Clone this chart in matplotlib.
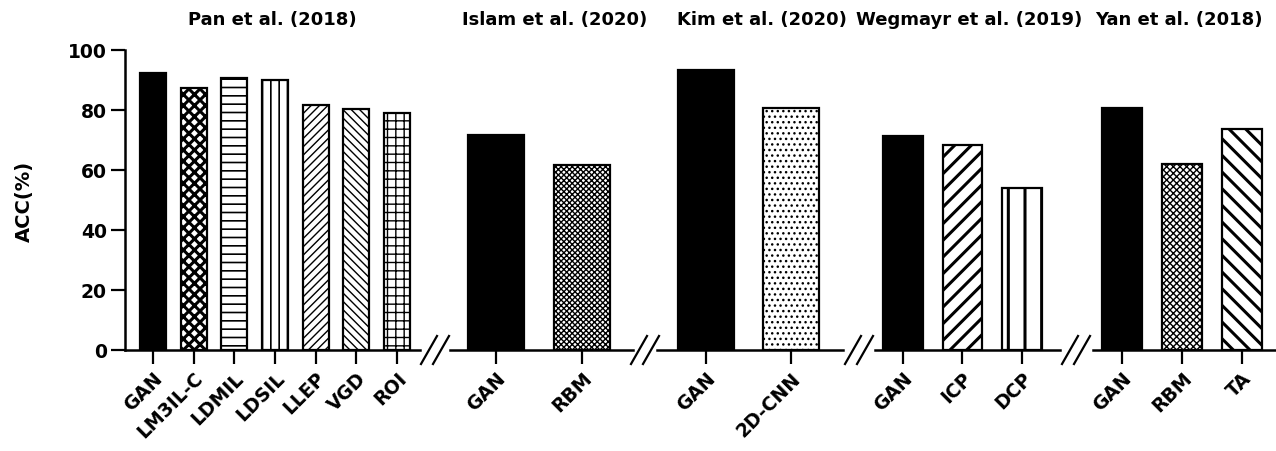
import matplotlib
matplotlib.use('Agg')
import matplotlib.pyplot as plt
from matplotlib.lines import Line2D

# accuracy (%) per study
studies = ['Pan et al. (2018)', 'Islam et al. (2020)', 'Kim et al. (2020)',
           'Wegmayr et al. (2019)', 'Yan et al. (2018)']
pan_methods = ['GAN', 'LM3IL-C', 'LDMIL', 'LDSIL', 'LLEP', 'VGD', 'ROI']
pan_acc = [92.3, 87.2, 90.7, 90.1, 81.8, 80.3, 78.9]
islam_methods = ['GAN', 'RBM']
islam_acc = [71.7, 61.8]
kim_methods = ['GAN', '2D-CNN']
kim_acc = [93.3, 80.6]
wegmayr_methods = ['GAN', 'ICP', 'DCP']
wegmayr_acc = [71.3, 68.3, 54.1]
yan_methods = ['GAN', 'RBM', 'TA']
yan_acc = [80.8, 61.9, 73.8]

# hatch pattern and hatch line width per bar (None = solid black)
pan_hatch = [None, 'xxx', '--', '||', '////', '\\\\\\\\', '++']
pan_hlw = [1, 2.2, 1.2, 1.2, 1.0, 1.0, 1.0]
islam_hatch = [None, 'xxxxxx']
islam_hlw = [1, 1.0]
kim_hatch = [None, '...']
kim_hlw = [1, 1.0]
wegmayr_hatch = [None, '//', '|']
wegmayr_hlw = [1, 2.2, 2.2]
yan_hatch = [None, 'xxxxx', '\\\\']
yan_hlw = [1, 1.0, 2.2]

W, H = 1276, 452
plt.rcParams['font.family'] = ['DejaVu Sans']
plt.rcParams['font.weight'] = 'bold'

fig = plt.figure(figsize=(W / 100, H / 100), dpi=100)

# layout: (left px, right px, xlim, bar width, title centre px)
panels = [
    (pan_methods, pan_acc, pan_hatch, pan_hlw, 125, 420, (-0.69, 6.57), 0.64, 272),
    (islam_methods, islam_acc, islam_hatch, islam_hlw, 450, 633, (-0.535, 1.59), 0.65, 555),
    (kim_methods, kim_acc, kim_hatch, kim_hlw, 657, 843, (-0.576, 1.61), 0.66, 762),
    (wegmayr_methods, wegmayr_acc, wegmayr_hatch, wegmayr_hlw, 875, 1060, (-0.47, 2.64), 0.67, 969),
    (yan_methods, yan_acc, yan_hatch, yan_hlw, 1093, 1275, (-0.48, 2.55), 0.67, 1179),
]

ybot, ytop = 101, 401
for i, (methods, acc, hatches, hlws, l, r, xlim, bw, tx) in enumerate(panels):
    ax = fig.add_axes([l / W, ybot / H, (r - l) / W, (ytop - ybot) / H])
    for xi, (v, h, hl) in enumerate(zip(acc, hatches, hlws)):
        with plt.rc_context({'hatch.linewidth': hl}):
            b = ax.bar(xi, v, width=bw, color='black' if h is None else 'white',
                       edgecolor='black', linewidth=1.6, hatch=h)[0]
        if h is not None and hasattr(b, 'set_hatch_linewidth'):
            b.set_hatch_linewidth(hl)
    ax.set_xlim(*xlim)
    ax.set_ylim(0, 100)
    ax.set_xticks(range(len(methods)))
    ax.set_xticklabels(methods, rotation=45, ha='right', rotation_mode='anchor',
                       fontsize=13.5, fontweight='bold')
    ax.tick_params(axis='x', length=10, width=1.6, pad=3)
    for s in ['top', 'right']:
        ax.spines[s].set_visible(False)
    ax.spines['bottom'].set_linewidth(1.8)
    if i == 0:
        ax.spines['left'].set_linewidth(1.8)
        ax.set_yticks(range(0, 101, 20))
        ax.tick_params(axis='y', length=10, width=1.6, labelsize=13.5, pad=3)
        for t in ax.get_yticklabels():
            t.set_fontweight('bold')
    else:
        ax.spines['left'].set_visible(False)
        ax.set_yticks([])
    ax.patch.set_alpha(0)
    fig.text(tx / W, 1 - 20 / H, studies[i], ha='center', va='center',
             fontsize=13, fontweight='bold')

# axis break marks between the panels
for gx in [435, 645, 859, 1076]:
    for cx in [gx - 6, gx + 6]:
        fig.add_artist(Line2D([(cx - 8) / W, (cx + 8) / W], [(ybot - 14) / H, (ybot + 14) / H],
                              transform=fig.transFigure, color='black', lw=1.6))

fig.text(24 / W, 251 / H, 'ACC(%)', rotation=90, ha='center', va='center',
         fontsize=14, fontweight='bold')

fig.savefig('out.png', dpi=100)
